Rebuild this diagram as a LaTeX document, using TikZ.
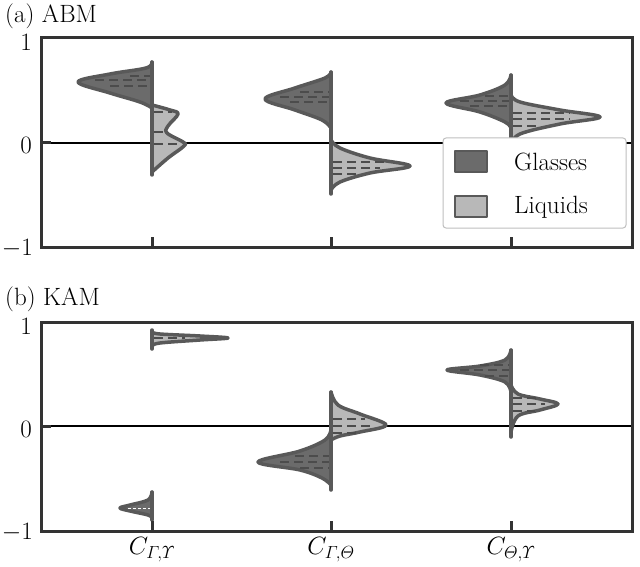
\RequirePackage{fix-cm}
\documentclass[tikz,border=0pt]{standalone}
\usepackage{amsmath}
\usepackage{fontspec}
\begin{document}
\begin{tikzpicture}[x=1pt,y=-1pt,
  glass/.style={fill=black!58,draw=black!65,line width=3.5pt,line join=round},
  liq/.style={fill=black!28,draw=black!65,line width=3.5pt,line join=round},
  cen/.style={draw=black!65,line width=3.5pt,line cap=round},
  q/.style={draw=black!70,line width=2.5pt,dash pattern=on 9pt off 5pt},
  frame/.style={draw=black!80,line width=3pt},
  lab/.style={font=\fontsize{25}{30}\selectfont},
  every node/.style={inner sep=0pt}]
\useasboundingbox (0,0) rectangle (640,567);
% ---------- panel (a)
\node[lab,anchor=west] (ta) at (5,16) {(a) ABM};
\draw[line width=2pt] (41,143) -- (632,143);
% violin 1
\draw[glass] plot[smooth,tension=0.6] coordinates {(152,62) (146,68) (110,74) (78,82) (110,93) (140,102) (152,108)} -- cycle;
\draw[liq] plot[smooth,tension=0.6] coordinates {(152,105) (170,110) (178,114) (168,126) (167,133) (183,142) (184,146) (168,158) (152,172)} -- cycle;
\draw[cen] (152,62) -- (152,175);
\draw[q] (95,80) -- (150,80); \draw[q] (110,86) -- (150,86); \draw[q] (130,76) -- (150,76);
\draw[q] (154,112) -- (172,112); \draw[q] (154,144) -- (180,144); \draw[q] (154,132) -- (168,132);
% violin 2
\draw[glass] plot[smooth,tension=0.6] coordinates {(331,72) (325,78) (295,88) (265,99) (295,110) (322,120) (331,128)} -- cycle;
\draw[liq] plot[smooth,tension=0.6] coordinates {(331,140) (340,148) (370,158) (410,166) (370,173) (340,182) (331,190)} -- cycle;
\draw[cen] (331,72) -- (331,194);
\draw[q] (280,97) -- (329,97); \draw[q] (290,102) -- (329,102); \draw[q] (300,92) -- (329,92);
\draw[q] (333,162) -- (385,162); \draw[q] (333,168) -- (380,168); \draw[q] (333,174) -- (360,174);
% violin 3
\draw[glass] plot[smooth,tension=0.6] coordinates {(511,75) (505,85) (480,95) (446,103) (480,112) (505,122) (511,128)} -- cycle;
\draw[liq] plot[smooth,tension=0.6] coordinates {(511,95) (520,102) (560,110) (600,117) (560,124) (520,134) (511,145)} -- cycle;
\draw[cen] (511,75) -- (511,150);
\draw[q] (460,101) -- (509,101); \draw[q] (470,106) -- (509,106); \draw[q] (485,96) -- (509,96);
\draw[q] (513,113) -- (570,113); \draw[q] (513,119) -- (570,119); \draw[q] (513,126) -- (540,126);
% legend
\draw[draw=black!25,fill=white,line width=1pt,rounded corners=3pt] (443,138) rectangle (626,228);
\draw[glass,line width=2.5pt] (455,151) rectangle (487,172);
\draw[liq,line width=2.5pt] (455,196) rectangle (487,217);
\node[lab,anchor=west] (lg) at (514,162) {Glasses};
\node[lab,anchor=west] (ll) at (514,207) {Liquids};
% frame a
\draw[frame] (41,38) rectangle (632,247);
\foreach \y in {38,143,247} \draw[frame] (41,\y) -- (51,\y);
\foreach \x in {152,331,511} \draw[frame] (\x,247) -- (\x,237);
\node[lab,anchor=east] (a1) at (32,42) {1};
\node[lab,anchor=east] (a0) at (32,145) {0};
\node[lab,anchor=east] (am) at (33,248) {$-1$};
% ---------- panel (b)
\node[lab,anchor=west] (tb) at (5,299) {(b) KAM};
\draw[line width=2pt] (41,426) -- (632,426);
% violin 1
\draw[glass] plot[smooth,tension=0.6] coordinates {(152,492) (148,500) (130,505) (120,508) (130,511) (148,515) (152,518)} -- cycle;
\draw[cen] (152,492) -- (152,520);
\draw[liq] plot[smooth,tension=0.6] coordinates {(152,332) (160,334) (200,336) (228,338) (200,340) (160,343) (152,346)} -- cycle;
\draw[cen] (152,330) -- (152,349);
\draw[q] (154,338) -- (185,338);
\draw[draw=white,line width=0.6pt,dash pattern=on 3pt off 2pt] (128,508) -- (150,508);
% violin 2
\draw[glass] plot[smooth,tension=0.6] coordinates {(331,430) (325,440) (300,451) (258,462) (300,470) (322,478) (331,485)} -- cycle;
\draw[liq] plot[smooth,tension=0.6] coordinates {(331,392) (338,405) (360,414) (386,425) (360,432) (340,436) (331,440)} -- cycle;
\draw[cen] (331,392) -- (331,490);
\draw[q] (280,462) -- (329,462); \draw[q] (295,456) -- (329,456); \draw[q] (300,468) -- (329,468);
\draw[q] (333,419) -- (365,419); \draw[q] (333,426) -- (370,426); \draw[q] (333,433) -- (360,433);
% violin 3
\draw[glass] plot[smooth,tension=0.6] coordinates {(511,350) (505,360) (480,366) (447,370) (480,375) (505,382) (511,392)} -- cycle;
\draw[liq] plot[smooth,tension=0.6] coordinates {(511,385) (518,394) (540,399) (558,404) (540,410) (518,416) (511,432)} -- cycle;
\draw[cen] (511,350) -- (511,437);
\draw[q] (460,370) -- (509,370); \draw[q] (480,365) -- (509,365); \draw[q] (485,376) -- (509,376);
\draw[q] (513,398) -- (540,398); \draw[q] (513,404) -- (545,404); \draw[q] (513,411) -- (535,411);
% frame b
\draw[frame] (41,322) rectangle (632,531);
\foreach \y in {322,426,531} \draw[frame] (41,\y) -- (51,\y);
\foreach \x in {152,331,511} \draw[frame] (\x,531) -- (\x,521);
\node[lab,anchor=east] (b1) at (32,326) {1};
\node[lab,anchor=east] (b0) at (32,429) {0};
\node[lab,anchor=east] (bm) at (33,532) {$-1$};
\node[lab] (x1) at (152,550) {$C_{\varGamma,\varUpsilon}$};
\node[lab] (x2) at (331,550) {$C_{\varGamma,\varTheta}$};
\node[lab] (x3) at (511,550) {$C_{\varTheta,\varUpsilon}$};
\end{tikzpicture}
\end{document}
